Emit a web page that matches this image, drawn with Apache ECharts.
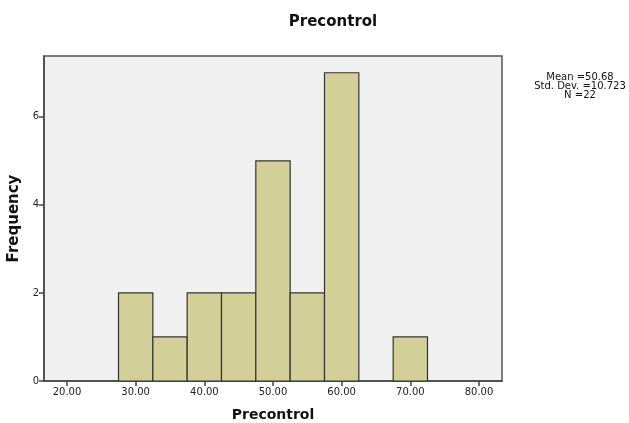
<!DOCTYPE html>
<html>
<head>
<meta charset="utf-8">
<script src="https://cdn.jsdelivr.net/npm/echarts@6/dist/echarts.min.js"></script>
<style>
  body { margin: 0; background: #fff; }
  #chart { width: 629px; height: 423px; }
</style>
</head>
<body>
<div id="chart"></div>
<script>
// histogram bins (lower edge, upper edge) and counts
var binStart = [27.5, 32.5, 37.5, 42.5, 47.5, 52.5, 57.5, 62.5, 67.5];
var binEnd   = [32.5, 37.5, 42.5, 47.5, 52.5, 57.5, 62.5, 67.5, 72.5];
var counts   = [2, 1, 2, 2, 5, 2, 7, 0, 1];
var xTicks = [20, 30, 40, 50, 60, 70, 80];
var yTicks = [0, 2, 4, 6];
var stats = ['Mean =50.68', 'Std. Dev. =10.723', 'N =22'];

var data = [];
for (var i = 0; i < counts.length; i++) {
  data.push([binStart[i], binEnd[i], counts[i]]);
}

var boldFont = { fontFamily: 'DejaVu Sans', fontSize: 15, fontWeight: 'bold', color: '#111' };

var chart = echarts.init(document.getElementById('chart'));
chart.setOption({
  backgroundColor: '#fff',
  animation: false,
  title: {
    text: 'Precontrol',
    left: 328, top: 10, textAlign: 'center',
    textStyle: boldFont
  },
  graphic: [{
    type: 'text',
    style: {
      x: 580, y: 73,
      text: stats.join('\n'),
      textAlign: 'center', textVerticalAlign: 'top',
      fontFamily: 'DejaVu Sans', fontSize: 10, lineHeight: 9, fill: '#111'
    }
  }],
  grid: {
    left: 44, top: 56, right: 127, bottom: 42,
    outerBoundsMode: 'none', containLabel: false,
    show: true, backgroundColor: '#f0f0f0', borderColor: '#555', borderWidth: 1.5
  },
  xAxis: {
    type: 'value', min: 16.65, max: 83.35,
    name: 'Precontrol', nameLocation: 'middle', nameGap: 27,
    nameTextStyle: { fontFamily: 'DejaVu Sans', fontSize: 14, fontWeight: 'bold', color: '#111' },
    splitLine: { show: false },
    axisLine: { lineStyle: { color: '#444', width: 1.5 } },
    axisTick: { customValues: xTicks, length: 5, lineStyle: { color: '#444', width: 1.5 } },
    axisLabel: {
      customValues: xTicks, margin: 6,
      fontFamily: 'DejaVu Sans', fontSize: 10, color: '#222',
      formatter: function (v) { return v.toFixed(2); }
    }
  },
  yAxis: {
    type: 'value', min: 0, max: 7.38,
    name: 'Frequency', nameLocation: 'middle', nameGap: 13,
    nameTextStyle: boldFont,
    splitLine: { show: false },
    axisLine: { show: true, lineStyle: { color: '#444', width: 1.5 } },
    axisTick: { show: true, customValues: yTicks, length: 5, lineStyle: { color: '#444', width: 1.5 } },
    axisLabel: { customValues: yTicks, margin: 5, fontFamily: 'DejaVu Sans', fontSize: 10, color: '#222' }
  },
  series: [{
    type: 'custom',
    data: data,
    encode: { x: [0, 1], y: 2 },
    renderItem: function (params, api) {
      var p0 = api.coord([api.value(0), api.value(2)]);
      var p1 = api.coord([api.value(1), 0]);
      if (api.value(2) === 0) return null;
      return {
        type: 'rect',
        shape: { x: p0[0], y: p0[1], width: p1[0] - p0[0], height: p1[1] - p0[1] },
        style: { fill: '#d3cf99', stroke: '#333', lineWidth: 1.2 }
      };
    }
  }]
});
</script>
</body>
</html>
